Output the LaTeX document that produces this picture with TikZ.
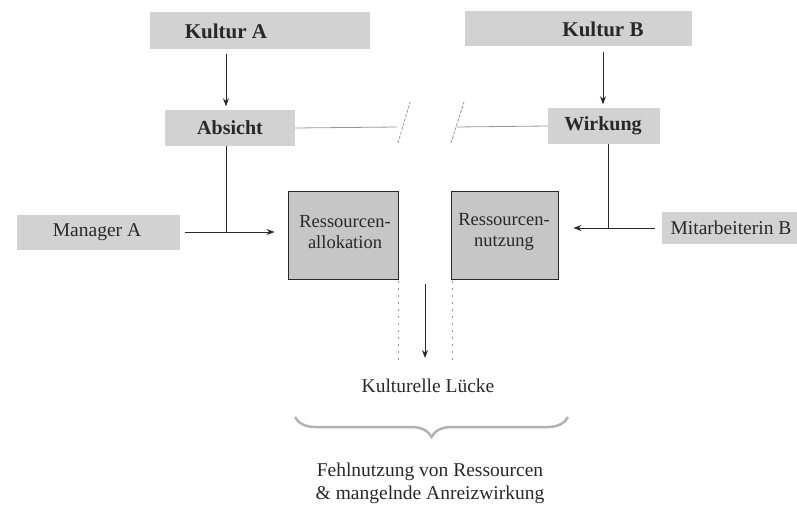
\documentclass[tikz,border=0pt]{standalone}
\usepackage{fontspec}
\setmainfont{Liberation Serif}
\usetikzlibrary{arrows.meta,decorations.pathreplacing,calc}
\definecolor{boxgray}{RGB}{210,210,210}
\definecolor{boxgraydark}{RGB}{198,198,198}
\definecolor{inkgray}{RGB}{40,40,40}
\definecolor{linkgray}{RGB}{150,150,150}
\begin{document}
\begin{tikzpicture}[x=1pt,y=-1pt,
  tagbox/.style={fill=boxgray,draw=none,inner sep=0pt},
  procbox/.style={fill=boxgraydark,draw=inkgray,line width=0.9pt,inner sep=0pt,
    minimum width=110pt,minimum height=88pt},
  boldtxt/.style={font=\fontsize{20}{24}\selectfont\bfseries,text=inkgray,inner sep=0pt},
  bigbold/.style={font=\fontsize{21}{24}\selectfont\bfseries,text=inkgray,inner sep=0pt},
  plaintxt/.style={font=\fontsize{19.5}{23}\selectfont,text=inkgray,inner sep=0pt},
  proctxt/.style={font=\fontsize{18.5}{21}\selectfont,text=inkgray,inner sep=0pt,align=center},
  link/.style={draw=inkgray,line width=0.9pt},
  arr/.style={link,-{Stealth[length=8pt,width=6pt]}},
  gaplink/.style={draw=linkgray,line width=0.8pt},
  gapslash/.style={draw=linkgray,line width=0.8pt,dash pattern=on 3pt off 1.5pt},
  dotline/.style={draw=linkgray,line width=0.8pt,dash pattern=on 2pt off 5pt},
  bracestyle/.style={draw=gray!60,line width=2.5pt,
    decorate,decoration={brace,amplitude=20pt}}
]
\useasboundingbox (0,0) rectangle (797,508);

% culture boxes at the top
\node[tagbox,minimum width=220pt,minimum height=37pt] (kA) at (260,30.5) {};
\node[bigbold] (kAt) at (226,31) {Kultur A};
\node[tagbox,minimum width=227pt,minimum height=35pt] (kB) at (578.5,29) {};
\node[bigbold] (kBt) at (603,29) {Kultur B};

% intention and effect
\node[tagbox,minimum width=130pt,minimum height=35pt] (ab) at (230,128) {};
\node[boldtxt] (abt) at (230,128) {Absicht};
\node[tagbox,minimum width=112pt,minimum height=35pt] (wi) at (604,126) {};
\node[boldtxt] (wit) at (603,126) {Wirkung};

% actors
\node[tagbox,minimum width=163pt,minimum height=35pt] (ma) at (98.5,232) {};
\node[plaintxt] (mat) at (97,232) {Manager A};
\node[tagbox,minimum width=136pt,minimum height=32pt] (mb) at (730,228) {};
\node[plaintxt] (mbt) at (731,228) {Mitarbeiterin B};

% resource boxes
\node[procbox] (ra) at (343,235) {};
\node[proctxt] (rat) at (345,232) {Ressourcen-\\allokation};
\node[procbox,minimum width=107pt] (rn) at (504.5,235) {};
\node[proctxt] (rnt) at (504,232) {Ressourcen-\\nutzung};

% outcome texts
\node[plaintxt] (kl) at (428,386) {Kulturelle Lücke};
\node[plaintxt,align=center] (fn) at (430,483.5) {Fehlnutzung von Ressourcen\\\& mangelnde Anreizwirkung};

% helper points
\coordinate (aj) at (226,232);
\coordinate (wj) at (608,229);
\coordinate (g1) at (397,127);
\coordinate (g2) at (457,127);
\coordinate (s1a) at (398,143);
\coordinate (s1b) at (410,102);
\coordinate (s2a) at (451,143);
\coordinate (s2b) at (464,102);
\coordinate (d1a) at (398,281);
\coordinate (d1b) at (398,360);
\coordinate (d2a) at (452,281);
\coordinate (d2b) at (452,360);
\coordinate (gapTop) at (425,284);
\coordinate (gapBot) at (425,358);
\coordinate (br1) at (568,417);
\coordinate (br2) at (295,417);

% culture shapes intention / effect
\draw[arr,shorten <=5pt,shorten >=4pt] (kAt |- kA.south) -- (kAt |- ab.north);
\draw[arr,shorten <=5pt,shorten >=4pt] (kBt |- kB.south) -- (kBt |- wi.north);

% broken link between intention and effect
\draw[gaplink] (ab.east) -- (g1);
\draw[gapslash] (s1a) -- (s1b);
\draw[gapslash] (s2a) -- (s2b);
\draw[gaplink] (g2) -- (wi.west);

% actors act on resources
\draw[link] (aj |- ab.south) -- (aj);
\draw[arr,shorten <=5pt,shorten >=13pt] (ma.east) -- (ra.west |- ma.east);
\draw[link] (wj |- wi.south) -- (wj);
\draw[arr,shorten <=7pt,shorten >=15pt] (mb.west) -- (rn.east |- mb.west);

% gap between allocation and use
\draw[dotline] (d1a) -- (d1b);
\draw[dotline] (d2a) -- (d2b);
\draw[arr] (gapTop) -- (gapBot);

% brace over the consequences
\draw[bracestyle] (br1) -- (br2);
\end{tikzpicture}
\end{document}
